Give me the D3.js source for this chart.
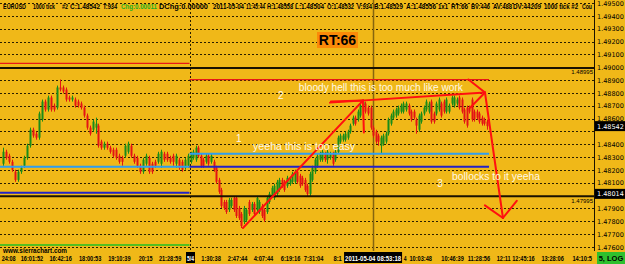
<!DOCTYPE html>
<html>
<head>
<meta charset="utf-8">
<script src="https://cdn.jsdelivr.net/npm/d3@7"></script>
<style>
html,body{margin:0;padding:0;background:#f0b818;}
svg{display:block;font-family:"Liberation Sans",Arial,sans-serif;}
</style>
</head>
<body>
<div id="chart"></div>
<script>
// EURUSD 1000 tick bars, [open, high, low, close]
var candles = [
  [1.48249,1.48374,1.48233,1.48342],[1.48342,1.48358,1.48280,1.48295],[1.48311,1.48327,1.48249,1.48264],
  [1.48264,1.48280,1.48186,1.48202],[1.48186,1.48202,1.48108,1.48123],[1.48123,1.48202,1.48108,1.48186],
  [1.48186,1.48233,1.48170,1.48217],[1.48233,1.48311,1.48217,1.48295],[1.48295,1.48405,1.48280,1.48389],
  [1.48389,1.48530,1.48374,1.48514],[1.48514,1.48530,1.48452,1.48468],[1.48483,1.48499,1.48436,1.48452],
  [1.48452,1.48655,1.48436,1.48640],[1.48593,1.48749,1.48577,1.48733],[1.48733,1.48749,1.48655,1.48671],
  [1.48671,1.48780,1.48655,1.48765],[1.48765,1.48780,1.48655,1.48671],[1.48702,1.48718,1.48655,1.48671],
  [1.48686,1.48858,1.48671,1.48843],[1.48843,1.48905,1.48812,1.48827],[1.48843,1.48858,1.48796,1.48812],
  [1.48827,1.48843,1.48733,1.48749],[1.48765,1.48780,1.48733,1.48749],[1.48749,1.48780,1.48733,1.48765],
  [1.48749,1.48765,1.48686,1.48702],[1.48733,1.48749,1.48686,1.48702],[1.48718,1.48733,1.48671,1.48686],
  [1.48686,1.48702,1.48608,1.48624],[1.48624,1.48640,1.48514,1.48530],[1.48530,1.48546,1.48468,1.48483],
  [1.48514,1.48593,1.48499,1.48577],[1.48530,1.48608,1.48483,1.48561],[1.48546,1.48561,1.48374,1.48389],
  [1.48421,1.48436,1.48358,1.48374],[1.48374,1.48421,1.48358,1.48405],[1.48405,1.48421,1.48358,1.48374],
  [1.48374,1.48389,1.48327,1.48342],[1.48358,1.48374,1.48295,1.48311],[1.48358,1.48374,1.48280,1.48295],
  [1.48311,1.48327,1.48249,1.48264],[1.48295,1.48311,1.48233,1.48264],[1.48311,1.48405,1.48295,1.48389],
  [1.48342,1.48421,1.48327,1.48405],[1.48389,1.48405,1.48295,1.48311],[1.48311,1.48327,1.48249,1.48264],
  [1.48295,1.48311,1.48217,1.48233],[1.48233,1.48249,1.48170,1.48186],[1.48186,1.48295,1.48170,1.48280],
  [1.48249,1.48327,1.48233,1.48311],[1.48295,1.48311,1.48170,1.48186],[1.48249,1.48264,1.48170,1.48186],
  [1.48264,1.48280,1.48217,1.48233],[1.48264,1.48342,1.48249,1.48327],[1.48249,1.48358,1.48217,1.48342],
  [1.48327,1.48342,1.48264,1.48280],[1.48327,1.48342,1.48264,1.48280],[1.48295,1.48311,1.48249,1.48264],
  [1.48311,1.48327,1.48233,1.48264],[1.48249,1.48327,1.48217,1.48311],[1.48280,1.48295,1.48202,1.48217],
  [1.48264,1.48280,1.48186,1.48202],[1.48217,1.48295,1.48202,1.48280],[1.48233,1.48327,1.48217,1.48311],
  // 2011-05-04
  [1.48264,1.48342,1.48249,1.48327],[1.48295,1.48358,1.48280,1.48342],[1.48280,1.48389,1.48264,1.48374],
  [1.48374,1.48389,1.48295,1.48311],[1.48311,1.48327,1.48217,1.48233],[1.48280,1.48295,1.48217,1.48233],
  [1.48264,1.48327,1.48249,1.48311],[1.48311,1.48327,1.48233,1.48249],[1.48264,1.48327,1.48249,1.48311],
  [1.48264,1.48280,1.48186,1.48202],[1.48217,1.48233,1.48092,1.48108],[1.48123,1.48139,1.48014,1.48030],
  [1.48045,1.48061,1.47904,1.47920],[1.47951,1.47967,1.47889,1.47904],[1.47951,1.47967,1.47858,1.47873],
  [1.47889,1.47983,1.47873,1.47967],[1.47920,1.47983,1.47904,1.47967],[1.47983,1.47998,1.47873,1.47889],
  [1.47983,1.47998,1.47826,1.47842],[1.47904,1.47920,1.47811,1.47826],[1.47858,1.47873,1.47748,1.47764],
  [1.47795,1.47920,1.47779,1.47904],[1.47811,1.47904,1.47795,1.47889],[1.47951,1.47967,1.47842,1.47858],
  [1.47889,1.47951,1.47873,1.47936],[1.47936,1.47951,1.47842,1.47858],[1.47889,1.47998,1.47873,1.47983],
  [1.47873,1.47967,1.47858,1.47951],[1.47920,1.47936,1.47826,1.47842],[1.47889,1.47904,1.47795,1.47811],
  [1.47873,1.47998,1.47858,1.47983],[1.47951,1.48030,1.47936,1.48014],[1.47998,1.48077,1.47983,1.48061],
  [1.47983,1.48092,1.47967,1.48077],[1.48014,1.48123,1.47998,1.48108],[1.48045,1.48139,1.48030,1.48123],
  [1.48123,1.48139,1.48061,1.48077],[1.48108,1.48123,1.48030,1.48045],[1.48077,1.48155,1.48061,1.48139],
  [1.48092,1.48139,1.48077,1.48123],[1.48108,1.48186,1.48092,1.48170],[1.48108,1.48202,1.48092,1.48186],
  [1.48186,1.48202,1.48092,1.48108],[1.48155,1.48170,1.48061,1.48077],[1.48139,1.48155,1.48077,1.48092],
  [1.48123,1.48139,1.48030,1.48045],[1.48077,1.48092,1.47998,1.48014],[1.48014,1.48186,1.47998,1.48170],
  [1.48123,1.48233,1.48108,1.48217],[1.48186,1.48295,1.48170,1.48280],[1.48233,1.48327,1.48217,1.48311],
  [1.48280,1.48342,1.48264,1.48327],[1.48280,1.48358,1.48264,1.48342],[1.48327,1.48342,1.48264,1.48280],
  [1.48280,1.48358,1.48249,1.48342],[1.48295,1.48342,1.48280,1.48327],[1.48327,1.48342,1.48233,1.48249],
  [1.48280,1.48358,1.48264,1.48342],[1.48342,1.48468,1.48327,1.48452],[1.48421,1.48483,1.48405,1.48468],
  [1.48436,1.48483,1.48421,1.48468],[1.48436,1.48499,1.48421,1.48483],[1.48452,1.48514,1.48436,1.48499],
  [1.48499,1.48561,1.48483,1.48546],[1.48561,1.48624,1.48546,1.48608],[1.48608,1.48624,1.48546,1.48561],
  [1.48593,1.48671,1.48577,1.48655],[1.48624,1.48733,1.48608,1.48702],[1.48702,1.48749,1.48655,1.48733],
  [1.48718,1.48733,1.48640,1.48655],[1.48686,1.48702,1.48624,1.48640],[1.48686,1.48702,1.48514,1.48530],
  [1.48530,1.48546,1.48452,1.48468],[1.48499,1.48514,1.48405,1.48421],[1.48468,1.48483,1.48389,1.48421],
  [1.48389,1.48468,1.48327,1.48452],[1.48405,1.48483,1.48389,1.48468],[1.48421,1.48499,1.48405,1.48483],
  [1.48483,1.48608,1.48468,1.48593],[1.48561,1.48640,1.48546,1.48624],[1.48608,1.48671,1.48593,1.48655],
  [1.48624,1.48686,1.48608,1.48671],[1.48640,1.48702,1.48624,1.48686],[1.48655,1.48718,1.48640,1.48702],
  [1.48655,1.48733,1.48640,1.48718],[1.48671,1.48733,1.48655,1.48718],[1.48702,1.48718,1.48624,1.48640],
  [1.48655,1.48671,1.48577,1.48593],[1.48655,1.48671,1.48593,1.48608],[1.48593,1.48608,1.48483,1.48546],
  [1.48514,1.48640,1.48499,1.48624],[1.48577,1.48655,1.48561,1.48640],[1.48640,1.48702,1.48624,1.48686],
  [1.48671,1.48749,1.48655,1.48733],[1.48655,1.48733,1.48640,1.48718],[1.48733,1.48749,1.48561,1.48577],
  [1.48640,1.48655,1.48561,1.48577],[1.48640,1.48733,1.48624,1.48718],[1.48671,1.48765,1.48655,1.48749],
  [1.48718,1.48733,1.48608,1.48624],[1.48733,1.48749,1.48640,1.48655],[1.48655,1.48765,1.48640,1.48749],
  [1.48655,1.48718,1.48640,1.48702],[1.48718,1.48780,1.48702,1.48765],[1.48702,1.48780,1.48686,1.48765],
  [1.48718,1.48765,1.48702,1.48749],[1.48765,1.48780,1.48671,1.48686],[1.48749,1.48765,1.48640,1.48655],
  [1.48671,1.48686,1.48561,1.48577],[1.48686,1.48702,1.48530,1.48546],[1.48686,1.48702,1.48640,1.48655],
  [1.48749,1.48765,1.48577,1.48593],[1.48655,1.48671,1.48577,1.48593],[1.48655,1.48671,1.48593,1.48608],
  [1.48640,1.48655,1.48561,1.48577],[1.48608,1.48624,1.48546,1.48561],[1.48593,1.48608,1.48546,1.48561],
  [1.48577,1.48593,1.48514,1.48542]
];
var dayStart = 63;          // first bar of 5/4
var cursorBar = 135;
var cursorLabel = "2011-05-04  08:53:18";

var priceTicks = [1.476,1.477,1.478,1.479,1.480,1.481,1.482,1.483,1.484,1.485,
                  1.486,1.487,1.488,1.489,1.490,1.491,1.492,1.493,1.494,1.495];
var timeTicks = [[1.9,"24:08"],[9.7,"16:01:52"],[19.3,"16:42:16"],[29.2,"18:00:53"],[39,"19:10:39"],
                 [47.8,"20:15"],[56,"21:28:59"],[71,"1:30:38"],[81.5,"2:47:44"],[91.7,"4:07:44"],
                 [102.4,"6:19:16"],[111.5,"7:31:04"],[121,"8:1"],[147.7,"4"],[153.8,"10:03:48"],
                 [166.4,"10:46:39"],[176.8,"11:28:56"],[186.6,"12:11"],[194.4,"12:45:16"],
                 [205.9,"13:28:06"],[217.6,"14:10:5"]];

// daily study lines: [day1, day2]
var dayHigh = [1.49031, 1.48905];
var dayMidA = [1.48225, 1.48327];
var dayMidB = [1.48022, 1.48225];
var prevLow = 1.47615;
var roundLevels = [1.48995, 1.47995];
var lastPrice = 1.48542;
var studyPrice = 1.48014;

var arrows = [
  {from:[83.6,1.47748], to:[131.0,1.48741]},
  {from:[118.0,1.48725], to:[179.2,1.48804]},
  {from:[179.2,1.48804], to:[186.3,1.47826]}
];
var notes = [
  [82.0,1.48417,"1"], [87.6,1.48358,"yeeha this is too easy"],
  [98.6,1.48757,"2"], [105.7,1.48812,"bloody hell this is too much like work"],
  [161.4,1.48069,"3"], [166.2,1.48123,"bollocks to it yeeha"]
];

var W = 625, H = 264, axisX = 594;
var green = "#198c19", red = "#e31414", gold = "#f0b818";

var svg = d3.select("#chart").append("svg").attr("width", W).attr("height", H);
svg.append("rect").attr("width", W).attr("height", H).attr("fill", gold);

var n = candles.length;
var x = d3.scaleLinear().domain([0, dayStart - 0.5, n - 1]).range([3, 189.5, 487]);
var y = d3.scaleLinear().domain([1.476, 1.494]).range([247, 16]);
var dayEdges = [[-1, dayStart - 0.5], [dayStart - 0.5, n - 0.2]];

svg.append("defs").append("clipPath").attr("id", "plot")
  .append("rect").attr("x", 0).attr("y", 0).attr("width", axisX).attr("height", 251);
var plot = svg.append("g").attr("clip-path", "url(#plot)");

// dotted price grid
plot.append("g").selectAll("line").data(priceTicks).join("line")
  .attr("x1", 0).attr("x2", axisX)
  .attr("y1", function(d){ return Math.round(y(d)) + 0.5; })
  .attr("y2", function(d){ return Math.round(y(d)) + 0.5; })
  .attr("stroke", "#2a1e00").attr("stroke-dasharray", "2,2");

// day separator
plot.append("line").attr("x1", Math.round(x(dayStart - 0.5)) + 0.5).attr("x2", Math.round(x(dayStart - 0.5)) + 0.5)
  .attr("y1", 0).attr("y2", 251).attr("stroke", "#2a1e00").attr("stroke-dasharray", "2,2");

// cursor line
plot.append("line").attr("x1", Math.round(x(cursorBar)) + 0.5).attr("x2", Math.round(x(cursorBar)) + 0.5)
  .attr("y1", 0).attr("y2", 251).attr("stroke", "#86650e").attr("stroke-width", 1.5);

// candles
var cg = plot.append("g");
candles.forEach(function(d, i){
  var xi = Math.round(x(i));
  var col = d[3] >= d[0] ? green : red;
  cg.append("line").attr("x1", xi + 0.5).attr("x2", xi + 0.5)
    .attr("y1", y(d[1])).attr("y2", y(d[2])).attr("stroke", col).attr("stroke-width", 1);
  var top = y(Math.max(d[0], d[3])), bot = y(Math.min(d[0], d[3]));
  cg.append("rect").attr("x", xi - 0.5).attr("y", top).attr("width", 2)
    .attr("height", Math.max(1, bot - top)).attr("fill", col);
});

// study lines
function levelLine(vals, color, w){
  vals.forEach(function(v, k){
    plot.append("line").attr("x1", x(dayEdges[k][0])).attr("x2", x(dayEdges[k][1]))
      .attr("y1", y(v)).attr("y2", y(v)).attr("stroke", color).attr("stroke-width", w);
  });
}
levelLine(dayHigh, "#e81818", 1.3);
levelLine(dayMidA, "#2f9ef0", 2);
levelLine(dayMidB, "#2222c8", 2);
levelLine([prevLow], "#22c022", 1.5);
roundLevels.forEach(function(v){
  plot.append("line").attr("x1", 0).attr("x2", axisX).attr("y1", y(v)).attr("y2", y(v))
    .attr("stroke", "#1a1200").attr("stroke-width", 2);
  svg.append("text").attr("x", axisX - 1).attr("y", y(v) + 6.5).attr("text-anchor", "end")
    .attr("font-size", 6).attr("fill", "#000").text(v.toFixed(5));
});

// hand drawn arrows
var ag = svg.append("g").attr("stroke", "#ff1010").attr("stroke-width", 2).attr("fill", "none")
  .attr("stroke-linecap", "round");
var barbs = [[32, 45], [21, 42], [22, 47]];
arrows.forEach(function(a, k){
  var x0 = x(a.from[0]), y0 = y(a.from[1]), x1 = x(a.to[0]), y1 = y(a.to[1]);
  ag.append("line").attr("x1", x0).attr("y1", y0).attr("x2", x1).attr("y2", y1);
  var back = Math.atan2(y0 - y1, x0 - x1), L = barbs[k][0], t = barbs[k][1] * Math.PI / 180;
  [-t, t].forEach(function(s){
    ag.append("line").attr("x1", x1).attr("y1", y1)
      .attr("x2", x1 + L * Math.cos(back + s)).attr("y2", y1 + L * Math.sin(back + s));
  });
});

// notes
var noteW = {"yeeha this is too easy": 102, "bloody hell this is too much like work": 164, "bollocks to it yeeha": 88};
notes.forEach(function(d){
  var t = svg.append("text").attr("x", x(d[0])).attr("y", y(d[1]))
    .attr("font-size", 10).attr("fill", "#fff8e6").text(d[2]);
  if (noteW[d[2]]) t.attr("textLength", noteW[d[2]]).attr("lengthAdjust", "spacingAndGlyphs");
  else t.attr("text-anchor", "middle");
});

// RT box
svg.append("rect").attr("x", 317).attr("y", 32).attr("width", 41).attr("height", 16).attr("fill", "#fb8a08");
svg.append("text").attr("x", 337.5).attr("y", 45).attr("text-anchor", "middle")
  .attr("font-size", 14).attr("font-weight", "bold").attr("fill", "#000").text("RT:66");

// header line
var header = [
  ["EURUSD",3,23],["1000 tick",33,22],["#2",62,6],["C:1.48542",70,30],["T:934",103,14],
  ["Chg:0.00011",121,36,"#1fb01f"],["DChg:0.00000",159,49],["2011-05-04",213,31],["11:45:44",246,19],
  ["H:1.48558",267,26],["L:1.48504",295,29],["O:1.48532",327,27],["V:934",357,15],
  ["B:1.48529",374,29],["A:1.48556",406,30],["1x1",438,10],["RT:66",451,17],["BV:446",471,19],
  ["AV:488",493,19],["DV:44209",513,28],["1000 tick #2",544,34],["Cou",582,10]
];
svg.append("g").selectAll("text").data(header).join("text")
  .attr("x", function(d){ return d[1]; }).attr("y", 8.5)
  .attr("textLength", function(d){ return d[2]; }).attr("lengthAdjust", "spacingAndGlyphs")
  .attr("font-size", 7.5).attr("font-weight", "bold").attr("fill", function(d){ return d[3] || "#000"; })
  .text(function(d){ return d[0]; });

// right price axis
svg.append("line").attr("x1", axisX + 0.5).attr("x2", axisX + 0.5).attr("y1", 0).attr("y2", 251)
  .attr("stroke", "#1a1200");
var boxed = [lastPrice, studyPrice];
var axisTicks = priceTicks.filter(function(p){
  return boxed.every(function(b){ return Math.abs(y(p) - y(b)) > 5.5; });
});
svg.append("g").selectAll("text").data(axisTicks).join("text")
  .attr("x", 597).attr("y", function(d){ return y(d) + 2.5; })
  .attr("font-family", "DejaVu Sans").attr("font-size", 6.5).attr("fill", "#000")
  .text(function(d){ return d.toFixed(5); });
boxed.forEach(function(v){
  svg.append("rect").attr("x", 595).attr("y", y(v) - 5).attr("width", 30).attr("height", 10).attr("fill", "#000");
  svg.append("text").attr("x", 597).attr("y", y(v) + 2.5).attr("font-family", "DejaVu Sans")
    .attr("font-size", 6.5).attr("fill", "#fff").text(v.toFixed(5));
});

// watermark
svg.append("text").attr("x", 3).attr("y", 253).attr("font-size", 7).attr("font-weight", "bold")
  .attr("textLength", 64).attr("lengthAdjust", "spacingAndGlyphs").attr("fill", "#000")
  .text("www.sierrachart.com");

// time axis, squeezed to the narrow chart font (about 2.8px per character)
var timeLabels = svg.append("g").selectAll("text").data(timeTicks).join("text")
  .attr("x", function(d){ return x(d[0]); }).attr("y", 261).attr("text-anchor", "middle")
  .attr("font-size", 7.5).attr("font-weight", "bold").attr("fill", "#000")
  .text(function(d){ return d[1]; });
timeLabels.each(function(){
  var w = this.getComputedTextLength(), want = this.textContent.length * 2.8;
  if (w > want) d3.select(this).attr("textLength", want).attr("lengthAdjust", "spacingAndGlyphs");
});

function tag(cx, w, label, bg, fg){
  svg.append("rect").attr("x", cx - w / 2).attr("y", 252).attr("width", w).attr("height", 11).attr("fill", bg);
  var t = svg.append("text").attr("x", cx).attr("y", 261).attr("text-anchor", "middle")
    .attr("font-size", 7.5).attr("font-weight", "bold").attr("fill", fg).text(label);
  if (t.node().getComputedTextLength() > w - 2)
    t.attr("textLength", w - 2).attr("lengthAdjust", "spacingAndGlyphs");
}
tag(x(dayStart - 0.5) + 1, 9, "5/4", "#000", "#fff");
tag(x(cursorBar), 58, cursorLabel, "#000", "#fff");
svg.append("rect").attr("x", 597).attr("y", 252).attr("width", 28).attr("height", 12).attr("fill", "#2ec02e");
svg.append("text").attr("x", 611).attr("y", 261).attr("text-anchor", "middle")
  .attr("font-size", 7.5).attr("font-weight", "bold").attr("fill", "#000").text("5, LOG");
</script>
</body>
</html>
